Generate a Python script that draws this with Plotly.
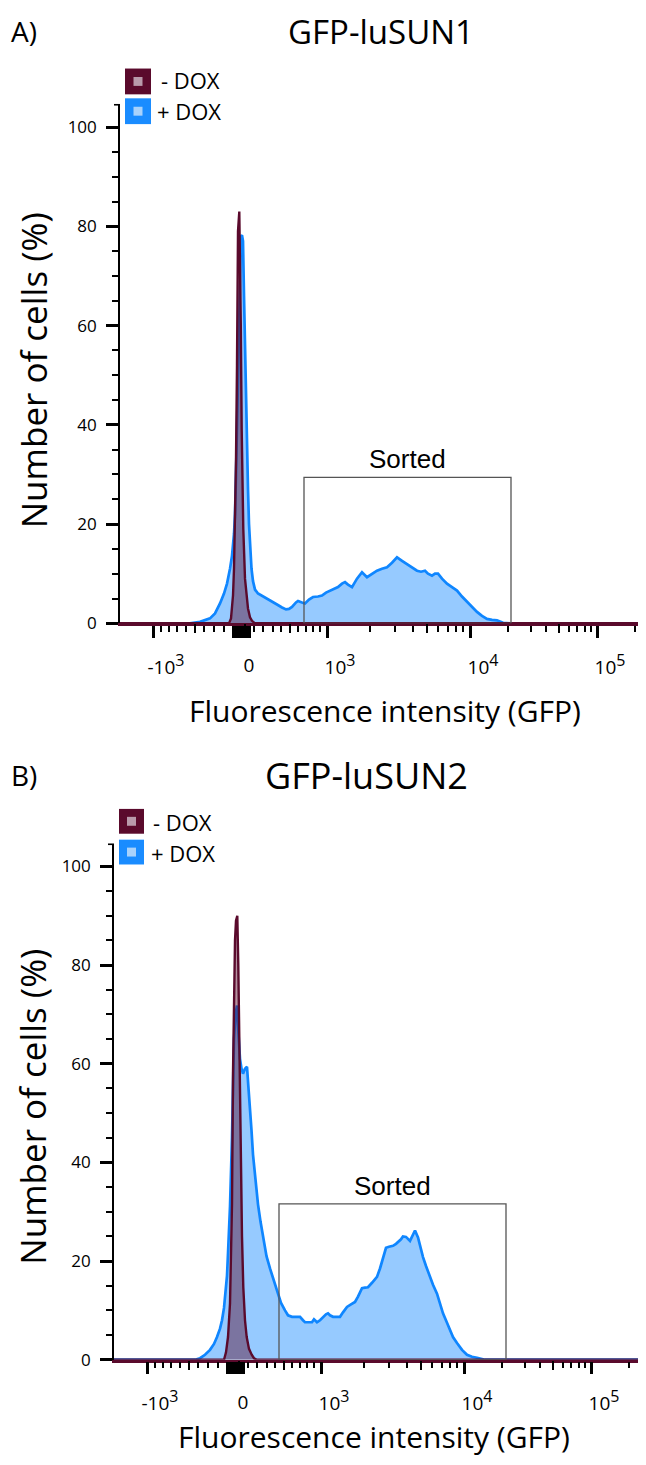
import numpy as np
import plotly.graph_objects as go

W, H = 646, 1465
OFF = 8                      # default page body margin of the html page
FIG_W, FIG_H = W - OFF, H - OFF

# ---------------- data (bin channel on the biexponential display scale, % of cells) -------------
chan_A_plus = [0, 70, 80, 85, 90, 95, 100, 104, 107, 110, 112, 114, 115, 116, 117, 118, 119, 120, 121, 122,
               123, 124, 125, 126, 127, 128, 129, 130, 131.5, 133, 135, 138, 142, 147, 152, 157, 162, 166,
               169, 172, 176, 178, 182, 185, 189, 193, 198, 202, 206, 210, 214, 218, 222, 225, 228, 232,
               237, 242, 247, 252, 257, 262, 267, 272, 277, 282, 287, 292, 297, 301, 305, 308, 312, 315,
               318, 322, 327, 332, 337, 342, 347, 352, 357, 362, 367, 372, 377, 383, 390, 526]
pct_A_plus = [0, 0, 0.3, 0.6, 1.0, 2.0, 4.0, 6.0, 8.0, 11, 13.6, 18, 22, 30, 39, 50, 60, 70, 78, 78.2,
              77, 66, 54, 43, 34, 27, 20, 15, 11, 8.5, 6.8, 6.0, 5.5, 5.0, 4.4, 3.8, 3.2, 2.8,
              2.9, 3.3, 4.2, 4.5, 4.2, 4.0, 4.8, 5.3, 5.4, 5.6, 6.2, 6.6, 6.9, 7.3, 8.0, 8.3, 7.8, 7.3,
              9.0, 10.3, 9.3, 10.0, 10.6, 11.0, 11.3, 12.2, 13.3, 12.6, 11.9, 11.2, 10.6, 10.4, 10.6, 10.0, 9.6, 10.0,
              10.0, 9.0, 8.0, 7.3, 6.6, 5.4, 4.3, 3.2, 2.3, 1.5, 0.9, 0.7, 0.6, 0.1, 0, 0]

chan_A_minus = [0, 109, 111, 113, 114, 115, 116, 117, 118, 119.3, 120.2, 120.8, 121.7, 122.5, 123.3,
                125, 126.5, 128, 130, 132, 135, 526]
pct_A_minus = [0, 0, 1, 5.6, 11, 19, 33, 52, 79, 83, 72, 60, 39, 27, 19,
               9, 5, 3, 1.2, 0.5, 0, 0]

chan_B_plus = [0, 81, 86, 91, 96, 100, 103, 106, 108, 110, 111, 113, 114, 116, 118, 119, 120, 121.5, 123,
               124.5, 126, 127.5, 129, 131, 133, 134.5, 136, 137.5, 139, 141.5, 144, 146.5, 149, 152.5,
               156, 160, 164, 167, 171, 174, 178, 182, 186, 189, 191, 195, 198, 200, 203, 206, 209, 212,
               214, 216, 219, 222, 226, 229, 233, 237, 241, 244, 248, 251, 254, 258, 263, 266, 268, 270,
               272, 275, 279, 282, 284, 287, 289, 292, 296, 299, 301, 304, 306, 309, 312, 316, 319, 323,
               326, 329, 333, 336, 339, 343, 348, 353, 358, 363, 367, 371, 532]
pct_B_plus = [0, 0, 0.3, 1.0, 2.0, 3.2, 4.6, 6.3, 8.0, 10.5, 12.7, 17, 21.5, 31, 45, 55, 65, 70, 71.8,
              66, 61, 59, 58, 59, 59.4, 55, 51.6, 46.5, 41.6, 36, 31.5, 28, 24.8, 21,
              18.5, 15.8, 13.4, 11.5, 10, 9.0, 8.7, 8.7, 8.7, 8.0, 7.6, 7.6, 7.6, 8.2, 7.6, 8.0, 8.7, 9.2,
              9.4, 9.0, 8.7, 8.7, 8.7, 9.6, 10.7, 11.2, 11.7, 12.8, 14.5, 14.6, 14.7, 15.6, 16.8, 18.5, 20.1, 21.5,
              22.7, 22.9, 23.1, 23.5, 23.8, 24.4, 25.0, 24.9, 24.1, 25.2, 26.2, 24.8, 23, 20.8, 19, 16.8, 15.2, 13.4,
              11.4, 9.4, 7.5, 6.0, 4.6, 3.4, 2.0, 1.0, 0.6, 0.4, 0.2, 0, 0]

chan_B_minus = [0, 110, 112, 114, 116, 117, 118, 119, 120, 121, 122, 123.3, 124.3, 125.3, 126, 126.7,
                128, 129.3, 131, 132.7, 135, 137.7, 140, 143, 532]
pct_B_minus = [0, 0, 1.5, 4.6, 11.4, 20, 31.6, 58, 73, 85, 89, 90, 80, 65, 50, 38,
               25, 14.7, 8, 4.6, 2.2, 1, 0.3, 0, 0]

# sort gates: [left channel, right channel, height %]
gate_A = [184, 391, 29.4]
gate_B = [165, 392, 31.6]

# axis ticks (fluorescence values)
SUP = '<sup><span style="font-size:16px">{}</span></sup>'
major_tick_values = [-1000, 1000, 10000, 100000]
major_tick_labels = ["-10" + SUP.format(3), "10" + SUP.format(3), "10" + SUP.format(4), "10" + SUP.format(5)]
zero_cluster_values = [-110, -80, -55, -30, -5, 20, 45]
medium_tick_values = [0, -500, 500, 5000, 50000]
medium_tick_labels = ["0", "", "", "", ""]
minor_tick_values = [-900, -800, -700, -600, -400, -300, -200,
                     100, 200, 300, 400, 600, 700, 800, 900,
                     2000, 3000, 4000, 6000, 7000, 8000, 9000,
                     20000, 30000, 40000, 60000, 70000, 80000, 90000, 200000]
y_major = [0, 20, 40, 60, 80, 100]
y_minor = [5, 10, 15, 25, 30, 35, 45, 50, 55, 65, 70, 75, 85, 90, 95]

# ---------------- biexponential display transform (value -> channel) ----------------
LIN_WIDTH = 1000.0
SCALE_S = [-2, -1, 0, 1, 2, 3, 4]
SCALE_CH = [-110, 33, 125, 207, 350, 477, 604]


def biex(v):
    v = np.asarray(v, dtype=float)
    a = np.abs(v)
    s = np.where(a <= LIN_WIDTH, np.arcsinh(v / LIN_WIDTH) / np.arcsinh(1.0),
                 np.sign(v) * (1 + np.log10(np.maximum(a, 1e-9) / LIN_WIDTH)))
    return np.interp(s, SCALE_S, SCALE_CH)


MAROON = "#5a0a2c"
BLUE = "#0f86ff"
BLUE_FILL = "rgba(150,202,255,1)"
MAROON_FILL = "rgba(90,10,44,0.45)"
FONT = "Open Sans"


def px(x):
    return (x - OFF) / FIG_W


def py(y):
    return 1 - (y - OFF) / FIG_H


fig = go.Figure()

panels = [
    dict(x="x", y="y", xo="x3", plus=(chan_A_plus, pct_A_plus), minus=(chan_A_minus, pct_A_minus),
         gate=gate_A),
    dict(x="x2", y="y2", xo="x4", plus=(chan_B_plus, pct_B_plus), minus=(chan_B_minus, pct_B_minus),
         gate=gate_B),
]

for p in panels:
    fig.add_trace(go.Scatter(x=p["plus"][0], y=p["plus"][1], xaxis=p["x"], yaxis=p["y"],
                             mode="lines", line=dict(color=BLUE, width=2.7), fill="tozeroy",
                             fillcolor=BLUE_FILL, showlegend=False, hoverinfo="skip"))
    fig.add_trace(go.Scatter(x=p["minus"][0], y=p["minus"][1], xaxis=p["x"], yaxis=p["y"],
                             mode="lines", line=dict(color=MAROON, width=2.4), fill="tozeroy",
                             fillcolor=MAROON_FILL, showlegend=False, hoverinfo="skip"))
    fig.add_trace(go.Scatter(x=[], y=[], xaxis=p["xo"], yaxis=p["y"], showlegend=False))
    g = p["gate"]
    fig.add_shape(type="rect", xref=p["x"], yref=p["y"], x0=g[0], x1=g[1], y0=0, y1=g[2],
                  line=dict(color="#555555", width=1.3), fillcolor="rgba(0,0,0,0)", layer="above")
    fig.add_annotation(xref=p["x"], yref=p["y"], x=(g[0] + g[1]) / 2, y=g[2] + 0.2, text="Sorted",
                       showarrow=False, yanchor="bottom",
                       font=dict(family="Liberation Sans", size=26, color="black"))

# panel geometry (page pixels)
geo = [dict(left=120, zero=628, unit=5.0, xr=526),
       dict(left=114, zero=1370, unit=4.97, xr=532)]
YTOP = 104.5

xaxis_common = dict(showgrid=False, zeroline=False, showline=True, linecolor=MAROON, linewidth=2.5,
                    ticks="outside", ticklen=12, tickwidth=3, tickcolor="black",
                    tickmode="array", ticklabelshift=13, ticklabelstandoff=13,
                    tickfont=dict(family=FONT, size=19, color="black"))
yaxis_common = dict(showgrid=False, zeroline=False, showline=True, linecolor="black", linewidth=1.6,
                    ticks="outside", ticklen=12, tickwidth=3, tickcolor="black",
                    tickmode="array", tickvals=y_major, ticktext=[str(v) for v in y_major],
                    ticklabelstandoff=6,
                    tickfont=dict(family=FONT, size=17, color="black"),
                    minor=dict(tickmode="array", tickvals=y_minor, ticks="outside", ticklen=6,
                               tickwidth=1.5, tickcolor="black"))

maj_vals = list(biex(major_tick_values)) + list(biex(zero_cluster_values))
maj_text = major_tick_labels + [""] * len(zero_cluster_values)

layout = dict(width=FIG_W, height=FIG_H, margin=dict(l=0, r=0, t=0, b=0),
              paper_bgcolor="white", plot_bgcolor="white", showlegend=False)

names = [("xaxis", "yaxis", "xaxis3", "y", "x"), ("xaxis2", "yaxis2", "xaxis4", "y2", "x2")]
for (xa, ya, xo, yref, xref), g in zip(names, geo):
    ydom = [py(g["zero"]), py(g["zero"] - YTOP * g["unit"])]
    xdom = [px(g["left"]), 1.0]
    layout[xa] = dict(xaxis_common, domain=xdom, range=[0, g["xr"]], anchor=yref,
                      tickvals=maj_vals, ticktext=maj_text,
                      minor=dict(tickmode="array", tickvals=list(biex(minor_tick_values)), ticks="outside",
                                 ticklen=6, tickwidth=1.6, tickcolor="black"))
    layout[ya] = dict(yaxis_common, domain=ydom, range=[0, YTOP], anchor=xref)
    layout[xo] = dict(overlaying=xref, anchor=yref, side="bottom", range=[0, g["xr"]],
                      showgrid=False, zeroline=False, showline=False, ticks="outside", ticklen=9,
                      tickwidth=2.2, tickcolor="black", tickmode="array",
                      tickvals=list(biex(medium_tick_values)), ticktext=medium_tick_labels,
                      ticklabelshift=4, ticklabelstandoff=16,
                      tickfont=dict(family=FONT, size=19, color="black"))

fig.update_layout(**layout)

# y-axis top bracket
for g in geo:
    ytop = g["zero"] - YTOP * g["unit"]
    fig.add_shape(type="line", xref="paper", yref="paper", x0=px(g["left"] - 6), x1=px(g["left"]),
                  y0=py(ytop), y1=py(ytop), line=dict(color="black", width=1.6))

# legends
legend_items = [
    (125, 69, 26, MAROON, "#b99aab", "- DOX", 159, 81),
    (125, 99, 26, "#1a8cff", "#a9d2fb", "+ DOX", 155, 112),
    (119, 815, 25, MAROON, "#b99aab", "- DOX", 151, 828),
    (119, 846, 25, "#1a8cff", "#a9d2fb", "+ DOX", 149, 859),
]
for x0, y0, s, c, ci, t, tx, ty in legend_items:
    fig.add_shape(type="rect", xref="paper", yref="paper", x0=px(x0), x1=px(x0 + s), y0=py(y0 + s), y1=py(y0),
                  fillcolor=c, line=dict(width=0))
    fig.add_shape(type="rect", xref="paper", yref="paper", x0=px(x0 + s / 2 - 4.5), x1=px(x0 + s / 2 + 4.5),
                  y0=py(y0 + s / 2 + 4.5), y1=py(y0 + s / 2 - 4.5), fillcolor=ci, line=dict(width=0))
    fig.add_annotation(xref="paper", yref="paper", x=px(tx), y=py(ty), text=t, showarrow=False,
                       xanchor="left", yanchor="middle", font=dict(family=FONT, size=22, color="black"))

texts = [
    ("A)", 10, 31, 28, "left", 0),
    ("GFP-luSUN1", 381, 32, 33, "center", 0),
    ("B)", 10, 781, 28, "left", 0),
    ("GFP-luSUN2", 366, 781, 36, "center", 0),
    ("Number of cells (%)", 33, 373, 35, "center", -90),
    ("Number of cells (%)", 33, 1115, 35, "center", -90),
    ("Fluorescence intensity (GFP)", 385, 716, 30, "center", 0),
    ("Fluorescence intensity (GFP)", 374, 1447, 30, "center", 0),
]
for t, x, y, s, anc, ang in texts:
    fig.add_annotation(xref="paper", yref="paper", x=px(x), y=py(y), text=t, showarrow=False,
                       xanchor=anc, yanchor="middle", textangle=ang, borderpad=0,
                       font=dict(family=FONT, size=s, color="black"))

fig.write_html("out.html")
